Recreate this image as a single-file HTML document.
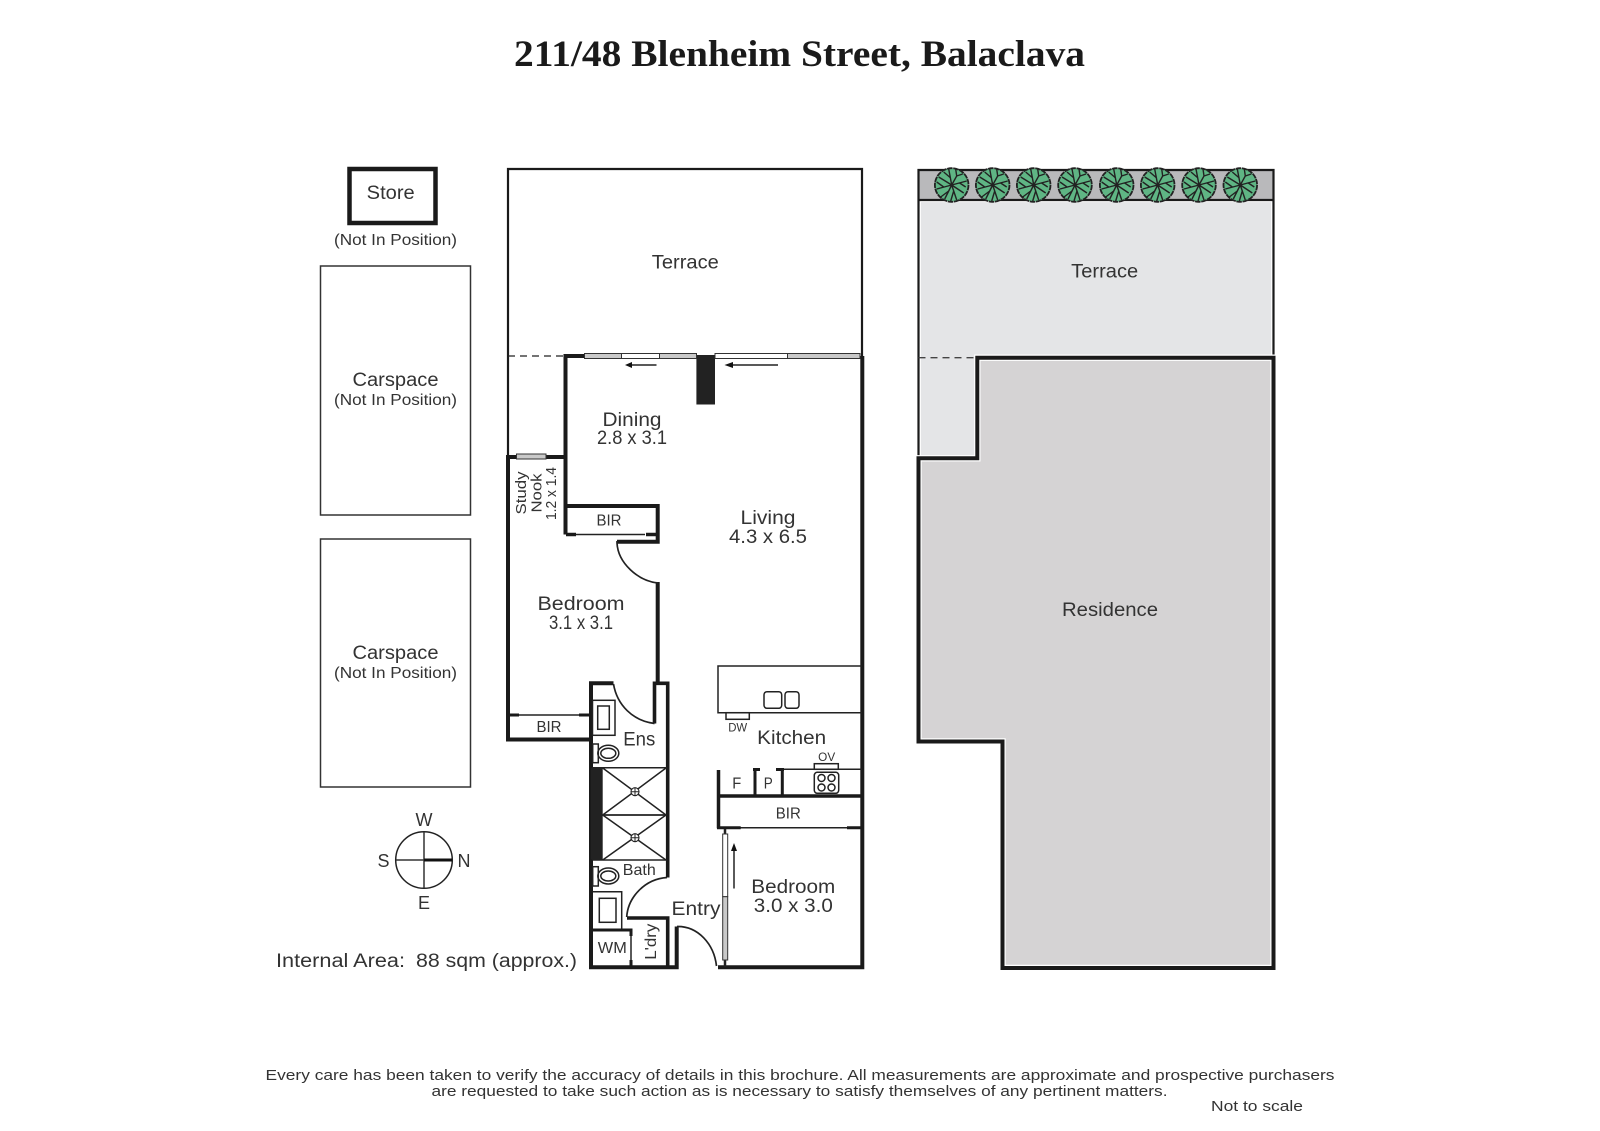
<!DOCTYPE html>
<html><head><meta charset="utf-8"><title>211/48 Blenheim Street, Balaclava</title>
<style>
html,body{margin:0;padding:0;background:#fff}
svg{display:block}
text{font-family:"Liberation Sans",sans-serif;fill:#333;text-anchor:middle}
.t{font-size:19px}.s{font-size:16px}.x{font-size:11.5px}
.w{fill:none;stroke:#1a1a1a;stroke-width:4;stroke-linejoin:miter}
.m{fill:none;stroke:#1a1a1a;stroke-width:2.2}
.l{fill:none;stroke:#222;stroke-width:1.5}
.win{fill:#c9c9c9;stroke:#333;stroke-width:1}
.wo{fill:#fff;stroke:#333;stroke-width:1}
</style></head><body>
<svg xmlns="http://www.w3.org/2000/svg" width="1600" height="1131" viewBox="0 0 1600 1131">
<defs>
<g id="tree">
<circle r="16.8" fill="#5fb584" stroke="#222" stroke-width="1.8" stroke-dasharray="5.5 0.7"/>
<g stroke="#222" stroke-width="1.4" fill="none">
<path d="M0 0L-3 -16M-1 -7L-8 -13M0 0L5 -9L4 -16M5 -9L11 -11M0 0L15 -4M8 -2L14 2M0 0L12 8M0 0L5 15M2 6L-1 16M0 0L-7 14M-3 6L-11 12M0 0L-15 4M-8 2L-15 -3M0 0L-13 -8"/>
</g>
</g>
<g id="drain"><circle r="4" fill="#fff" stroke="#222" stroke-width="1.1"/><path d="M-4 0H4M0 -4V4" stroke="#222" stroke-width="1"/></g>
</defs>

<text x="799.5" y="66" textLength="571" lengthAdjust="spacingAndGlyphs" style="font-family:'Liberation Serif',serif;font-weight:bold;font-size:37px;fill:#1a1a1a">211/48 Blenheim Street, Balaclava</text>

<!-- store + carspaces -->
<rect x="349.5" y="169" width="86" height="54" class="w" style="stroke-width:4.5"/>
<text class="t" x="390.7" y="199" textLength="48" lengthAdjust="spacingAndGlyphs">Store</text>
<text class="s" x="395.5" y="245" textLength="123" lengthAdjust="spacingAndGlyphs">(Not In Position)</text>
<rect x="320.5" y="266" width="150" height="249" fill="none" stroke="#333" stroke-width="1.5"/>
<rect x="320.5" y="539" width="150" height="248" fill="none" stroke="#333" stroke-width="1.5"/>
<text class="t" x="395.5" y="386" textLength="86" lengthAdjust="spacingAndGlyphs">Carspace</text>
<text class="s" x="395.5" y="405" textLength="123" lengthAdjust="spacingAndGlyphs">(Not In Position)</text>
<text class="t" x="395.5" y="659" textLength="86" lengthAdjust="spacingAndGlyphs">Carspace</text>
<text class="s" x="395.5" y="678" textLength="123" lengthAdjust="spacingAndGlyphs">(Not In Position)</text>

<!-- compass -->
<circle cx="424" cy="860" r="28.3" fill="none" stroke="#222" stroke-width="1.5"/>
<path d="M424 832V888M396 860H424" stroke="#333" stroke-width="1.5"/>
<path d="M424 860H452" stroke="#111" stroke-width="3"/>
<text class="t" x="424" y="826" style="font-size:18px">W</text>
<text class="t" x="383.5" y="867" style="font-size:18px">S</text>
<text class="t" x="464" y="867" style="font-size:18px">N</text>
<text class="t" x="424" y="909" style="font-size:18px">E</text>
<text class="t" x="340.5" y="967" textLength="129" lengthAdjust="spacingAndGlyphs">Internal Area:</text>
<text class="t" x="496.5" y="967" textLength="161" lengthAdjust="spacingAndGlyphs">88 sqm (approx.)</text>

<!-- main plan: terrace outline -->
<path d="M508 457V169H862V356" class="m"/>
<path d="M508 356H565" fill="none" stroke="#222" stroke-width="1.3" stroke-dasharray="7 5"/>
<text class="t" x="685.3" y="268.5" textLength="67" lengthAdjust="spacingAndGlyphs">Terrace</text>

<!-- walls -->
<path d="M585 356H565.5V534.5" class="w"/>
<path d="M516 457H508V739.5H591M546 457H565.5" class="w"/>
<path d="M565.5 506H657.7V541.7H617M657.7 582V685" class="w"/>
<path d="M862.3 356V967.3H718" class="w"/>
<path d="M613.5 683.3H591V967.3H676.7V926.5" class="w"/>
<path d="M654.5 723.5V683.3H667.7V877.5" class="w" style="stroke-width:3.6"/>
<path d="M627 918H667.7V967" class="w" style="stroke-width:3.6"/>
<rect x="591" y="768" width="11.7" height="91.5" fill="#222"/>
<rect x="696.4" y="355" width="18.6" height="49.5" fill="#222"/>
<path d="M567 534.5H645" class="l"/><path d="M566 534.5H576M646 534.5H657" class="w" style="stroke-width:3.5"/>
<!-- windows -->
<rect x="584.5" y="353.5" width="37" height="5" class="win"/><rect x="621.5" y="353.5" width="38" height="5" class="wo"/><rect x="659.5" y="353.5" width="37" height="5" class="win"/>
<rect x="715" y="353.5" width="72.5" height="5" class="wo"/><rect x="787.5" y="353.5" width="72.5" height="5" class="win"/>
<rect x="516.5" y="454" width="29.5" height="5" class="win"/>
<!-- sliding arrows -->
<path d="M656.5 365H631" stroke="#222" stroke-width="1.5"/><path d="M625 365L632 362V368Z" fill="#111"/>
<path d="M778 365H731" stroke="#222" stroke-width="1.5"/><path d="M724.5 365L733 362V368Z" fill="#111"/>

<!-- door arcs -->
<path d="M617 541V543C618 563 638 581 658 583" class="l" style="stroke-width:1.7"/>
<path d="M613.5 684C617 705 633 721 654.5 723.5" class="l" style="stroke-width:1.7"/>
<path d="M667 877.5C645 879 628 897 626.7 917" class="l" style="stroke-width:1.7"/>
<path d="M677 926.5C698 926 714 944 716.5 966" class="l" style="stroke-width:1.7"/>

<!-- BIR bedroom lower -->
<path d="M508 715H591" class="l"/><path d="M508 715H519M579 715H591" class="w" style="stroke-width:3"/>
<text class="s" x="549" y="732" textLength="25" lengthAdjust="spacingAndGlyphs">BIR</text>

<!-- labels main -->
<text class="t" x="632" y="426" textLength="59" lengthAdjust="spacingAndGlyphs">Dining</text>
<text class="t" x="632" y="444" textLength="70" lengthAdjust="spacingAndGlyphs">2.8 x 3.1</text>
<text class="t" x="768" y="524" textLength="55" lengthAdjust="spacingAndGlyphs">Living</text>
<text class="t" x="768" y="543" textLength="78" lengthAdjust="spacingAndGlyphs">4.3 x 6.5</text>
<text class="s" x="609" y="525.5" textLength="25" lengthAdjust="spacingAndGlyphs">BIR</text>
<text class="t" x="581" y="610" textLength="87" lengthAdjust="spacingAndGlyphs">Bedroom</text>
<text class="t" x="581" y="629" textLength="64" lengthAdjust="spacingAndGlyphs">3.1 x 3.1</text>
<text class="s" transform="translate(526,493) rotate(-90)" textLength="43" lengthAdjust="spacingAndGlyphs" style="font-size:15px">Study</text>
<text class="s" transform="translate(541.5,493) rotate(-90)" textLength="39" lengthAdjust="spacingAndGlyphs" style="font-size:15px">Nook</text>
<text class="s" transform="translate(556,493.5) rotate(-90)" textLength="53" lengthAdjust="spacingAndGlyphs" style="font-size:15px">1.2 x 1.4</text>

<!-- ensuite -->
<rect x="592.5" y="700.3" width="22.5" height="35" class="l"/>
<rect x="597.7" y="706" width="11.6" height="23.3" class="l"/>
<rect x="592.7" y="744" width="5.6" height="18.7" class="l"/>
<ellipse cx="608.3" cy="753.3" rx="10.5" ry="8" class="l"/><ellipse cx="608.3" cy="753.3" rx="7.5" ry="5" class="l"/>
<text class="t" x="639.3" y="745.5" textLength="32" lengthAdjust="spacingAndGlyphs">Ens</text>
<!-- showers -->
<path d="M592 767.7H667M592 860H667" class="l"/>
<path d="M602.7 815H667" stroke="#222" stroke-width="1.8"/>
<path d="M602.7 768L666 815M666 768L602.7 815M602.7 815L666 860M666 815L602.7 860" class="l"/>
<use href="#drain" x="635" y="791.7"/><use href="#drain" x="635" y="837.7"/>
<!-- bath -->
<rect x="592.7" y="866.7" width="5.6" height="19.3" class="l"/>
<ellipse cx="608.3" cy="876" rx="10.5" ry="8" class="l"/><ellipse cx="608.3" cy="876" rx="7.5" ry="5" class="l"/>
<text class="s" x="639.3" y="875" textLength="33" lengthAdjust="spacingAndGlyphs">Bath</text>
<path d="M592.7 891.7H621.7V930" class="l"/>
<rect x="599.3" y="898.3" width="16.7" height="24" class="l"/>
<!-- WM / L'dry -->
<path d="M592 930H632.5" class="w" style="stroke-width:3"/>
<path d="M631 930V967" class="l"/>
<path d="M631 930V936M631 960V967" class="w" style="stroke-width:3"/>
<text class="s" x="612.3" y="953" textLength="29" lengthAdjust="spacingAndGlyphs">WM</text>
<text class="s" transform="translate(656,941.7) rotate(-90)" textLength="36" lengthAdjust="spacingAndGlyphs">L'dry</text>

<!-- kitchen -->
<path d="M862 666H718V712.7H862" class="l"/>
<rect x="764" y="691.7" width="17.7" height="16.6" rx="3" class="l"/>
<rect x="785" y="691.7" width="14" height="16.6" rx="3" class="l"/>
<rect x="726" y="712.7" width="23.3" height="6.6" class="l"/>
<text class="x" x="737.7" y="731.5" textLength="19" lengthAdjust="spacingAndGlyphs">DW</text>
<text class="t" x="791.7" y="744" textLength="69" lengthAdjust="spacingAndGlyphs">Kitchen</text>
<text class="x" x="826.7" y="761" textLength="17" lengthAdjust="spacingAndGlyphs">OV</text>
<rect x="814.3" y="763.7" width="24" height="5.6" class="l"/>
<path d="M782 769.3H862" class="l"/>
<rect x="814.3" y="772.3" width="24.4" height="21" rx="3" class="l"/>
<circle cx="821.5" cy="778" r="3.5" class="l"/><circle cx="831.5" cy="778" r="3.5" class="l"/><circle cx="821.5" cy="787.5" r="3.5" class="l"/><circle cx="831.5" cy="787.5" r="3.5" class="l"/>
<path d="M718.5 770V828.3M718 796H862" class="w" style="stroke-width:3.5"/>
<path d="M755 769V796M782.3 769V796" class="w" style="stroke-width:3"/>
<path d="M753 769.5H760M776 769.5H784" class="w" style="stroke-width:3"/>
<text class="s" x="736.7" y="788.5" textLength="9" lengthAdjust="spacingAndGlyphs">F</text>
<text class="s" x="768.3" y="788.5" textLength="9" lengthAdjust="spacingAndGlyphs">P</text>
<path d="M718 827.7H862" class="l"/>
<path d="M717 827.7H740.7M847 827.7H862" class="w" style="stroke-width:3"/>
<text class="s" x="788.3" y="818.5" textLength="25" lengthAdjust="spacingAndGlyphs">BIR</text>

<!-- bedroom 2 slider -->
<path d="M725 829V834M725 960V967" stroke="#222" stroke-width="2.5"/>
<rect x="722.7" y="834" width="5" height="62.7" class="wo"/>
<rect x="722.7" y="896.7" width="5" height="63.3" class="win"/>
<path d="M734 888.5V850" stroke="#222" stroke-width="1.5"/><path d="M734 843L731 851H737Z" fill="#111"/>
<text class="t" x="793.3" y="893" textLength="84" lengthAdjust="spacingAndGlyphs">Bedroom</text>
<text class="t" x="793.3" y="912" textLength="79" lengthAdjust="spacingAndGlyphs">3.0 x 3.0</text>
<text class="t" x="696" y="915" textLength="49" lengthAdjust="spacingAndGlyphs">Entry</text>

<!-- right plan -->
<rect x="918.5" y="170" width="355" height="188" fill="#e4e5e7"/>
<rect x="918.5" y="358" width="59" height="100" fill="#e4e5e7"/>
<rect x="918.5" y="170" width="355" height="30" fill="#b9b9bb"/>
<path d="M920.3 458V201.5H1271.7V356" fill="none" stroke="#fff" stroke-width="1.2"/>
<path d="M918.5 458V170H1273.5V358M918.5 200H1273.5" class="m"/>
<path d="M918.5 357.7H977" fill="none" stroke="#444" stroke-width="1.3" stroke-dasharray="7 5"/>
<path d="M977.3 357.7H1273.5V968H1002.5V741.5H918.5V458.3H977.3Z" fill="#d5d3d4" stroke="#fff" stroke-width="6.4"/>
<path d="M977.3 357.7H1273.5V968H1002.5V741.5H918.5V458.3H977.3Z" fill="none" stroke="#1a1a1a" stroke-width="4"/>
<use href="#tree" x="951.7" y="185"/><use href="#tree" x="992.7" y="185"/><use href="#tree" x="1033.7" y="185"/><use href="#tree" x="1075" y="185"/><use href="#tree" x="1116.7" y="185"/><use href="#tree" x="1157.7" y="185"/><use href="#tree" x="1199" y="185"/><use href="#tree" x="1240.3" y="185"/>
<text class="t" x="1104.7" y="277.5" textLength="67" lengthAdjust="spacingAndGlyphs">Terrace</text>
<text class="t" x="1110" y="616" textLength="96" lengthAdjust="spacingAndGlyphs">Residence</text>

<!-- footer -->
<text class="s" x="800" y="1080" textLength="1069" lengthAdjust="spacingAndGlyphs" style="font-size:15px">Every care has been taken to verify the accuracy of details in this brochure.  All measurements are approximate and prospective purchasers</text>
<text class="s" x="799.5" y="1096" textLength="736" lengthAdjust="spacingAndGlyphs" style="font-size:15px">are requested to take such action as is necessary to satisfy themselves of any pertinent matters.</text>
<text class="s" x="1257" y="1111" textLength="92" lengthAdjust="spacingAndGlyphs" style="font-size:15px">Not to scale</text>
</svg>
</body></html>
